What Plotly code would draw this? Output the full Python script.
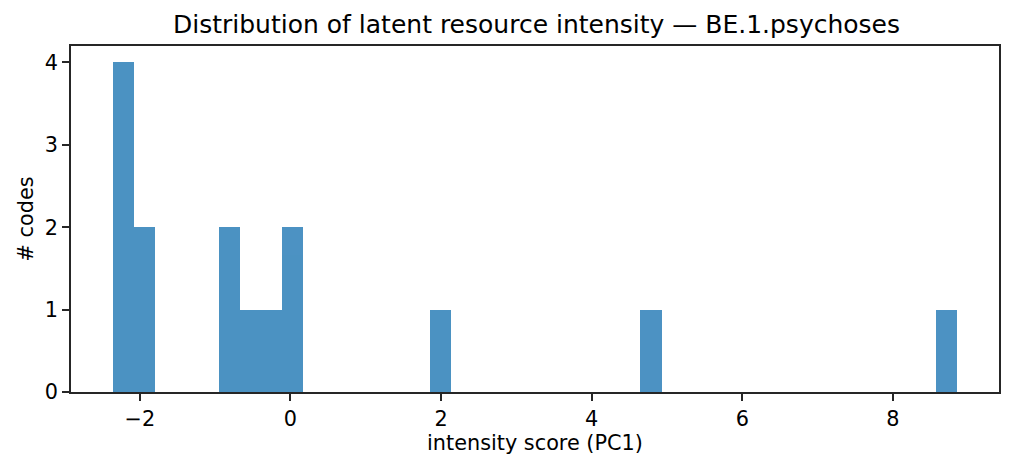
import numpy as np
import plotly.graph_objects as go

# PC1 intensity scores (estimated from the histogram)
scores = [-2.354, -2.30, -2.25, -2.15, -2.00, -1.90,
          -0.85, -0.75, -0.50, -0.25, -0.05, 0.10,
          2.00, 4.80, 8.848]
n_bins = 40
x_ticks = [-2, 0, 2, 4, 6, 8]
y_ticks = [0, 1, 2, 3, 4]

counts, edges = np.histogram(scores, bins=n_bins)
centers = (edges[:-1] + edges[1:]) / 2
width = edges[1] - edges[0]

span = edges[-1] - edges[0]
x_range = [edges[0] - 0.05 * span, edges[-1] + 0.05 * span]
y_range = [0, counts.max() * 1.05]

fig = go.Figure(go.Bar(
    x=centers, y=counts, width=width,
    marker=dict(color="#1f77b4", line=dict(width=0)),
    opacity=0.8,
))

font = "DejaVu Sans"
axis_common = dict(
    showline=True, linecolor="#262626", linewidth=1.6, mirror=True,
    ticks="outside", ticklen=7, tickwidth=1.6, tickcolor="#262626",
    showgrid=False, zeroline=False,
    tickfont=dict(family=font, size=20.8, color="#000000"),
)

# page body has an 8px default margin, so the figure is 1000x454
fig.update_layout(
    width=1000, height=454,
    margin=dict(l=63, r=7, t=38, b=70),
    paper_bgcolor="white", plot_bgcolor="white",
    bargap=0,
    showlegend=False,
    title=dict(text="Distribution of latent resource intensity — BE.1.psychoses",
               x=0.5285, xanchor="center", y=1 - 16.5 / 454, yanchor="middle",
               font=dict(family=font, size=25, color="#000000")),
    xaxis=dict(range=x_range, tickvals=x_ticks,
               title=dict(text="intensity score (PC1)", standoff=4,
                          font=dict(family=font, size=20.8, color="#000000")),
               **axis_common),
    yaxis=dict(range=y_range, tickvals=y_ticks,
               title=dict(text="# codes", standoff=6,
                          font=dict(family=font, size=20.8, color="#000000")),
               **axis_common),
)

fig.write_html("out.html")
